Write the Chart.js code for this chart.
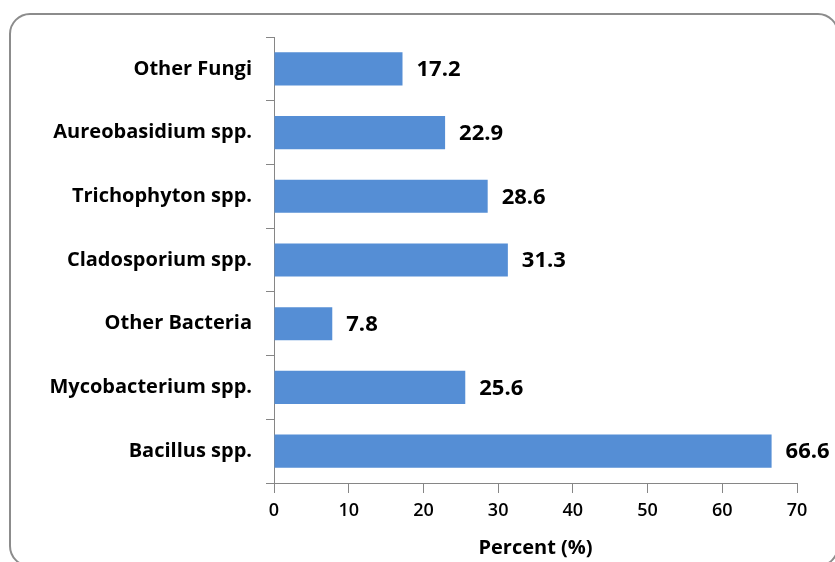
<!DOCTYPE html>
<html><head><meta charset="utf-8">
<script src="https://cdn.jsdelivr.net/npm/chart.js@4"></script>
<style>html,body{margin:0;padding:0;background:#fff}#wrap{width:835px;height:562px;position:relative}</style>
</head><body><div id="wrap"><canvas id="c"></canvas></div>
<script>
const categories = ["Other Fungi","Aureobasidium spp.","Trichophyton spp.","Cladosporium spp.","Other Bacteria","Mycobacterium spp.","Bacillus spp."];
const values = [17.2,22.9,28.6,31.3,7.8,25.6,66.6];
const xTicks = [0,10,20,30,40,50,60,70];
const axisTitle = "Percent (%)";

const FONT = "'Open Sans', sans-serif";
const frame = {
  id:'frame',
  beforeDraw(chart){
    const ctx = chart.ctx;
    ctx.save();
    ctx.strokeStyle = '#8c8c8c';
    ctx.lineWidth = 2;
    ctx.beginPath();
    ctx.roundRect(10, 14, 828, 552, 20);
    ctx.stroke();
    ctx.restore();
  }
};
const valueLabels = {
  id:'valueLabels',
  afterDatasetsDraw(chart){
    const ctx = chart.ctx;
    const meta = chart.getDatasetMeta(0);
    ctx.save();
    ctx.font = "bold 22px " + FONT;
    ctx.fillStyle = '#000';
    ctx.textBaseline = 'middle';
    ctx.textAlign = 'left';
    meta.data.forEach((bar,i)=>{
      ctx.fillText(values[i].toFixed(1), bar.x + 14, bar.y + 1);
    });
    ctx.restore();
  }
};
new Chart(document.getElementById('c'), {
  type:'bar',
  data:{labels:categories, datasets:[{data:values, backgroundColor:'#558ed5', categoryPercentage:1, barPercentage:0.52}]},
  options:{
    indexAxis:'y',
    responsive:true, maintainAspectRatio:false, animation:false,
    layout:{padding:{left:0,right:38,top:37,bottom:0}},
    plugins:{legend:{display:false}, tooltip:{enabled:false}},
    scales:{
      x:{min:0,max:70,
        afterBuildTicks(s){ s.ticks = xTicks.map(v=>({value:v})); },
        grid:{drawOnChartArea:false, drawTicks:true, tickLength:10, color:'#868686'},
        border:{display:true,color:'#868686',width:1},
        ticks:{color:'#000', font:{family:FONT,size:18,weight:'600'}, padding:7, maxRotation:0},
        title:{display:true,text:axisTitle,color:'#000',font:{family:FONT,size:20,weight:'bold'},padding:{top:0,bottom:2}},
        afterFit(s){ s.height = 79; }
      },
      y:{
        grid:{drawOnChartArea:false, drawTicks:true, tickLength:8, color:'#868686', offset:true},
        border:{display:true,color:'#868686',width:1},
        ticks:{color:'#000', font:{family:FONT,size:20,weight:'bold'}, padding:14},
        afterFit(s){ s.width = 274; }
      }
    }
  },
  plugins:[frame,valueLabels]
});
</script></body></html>
